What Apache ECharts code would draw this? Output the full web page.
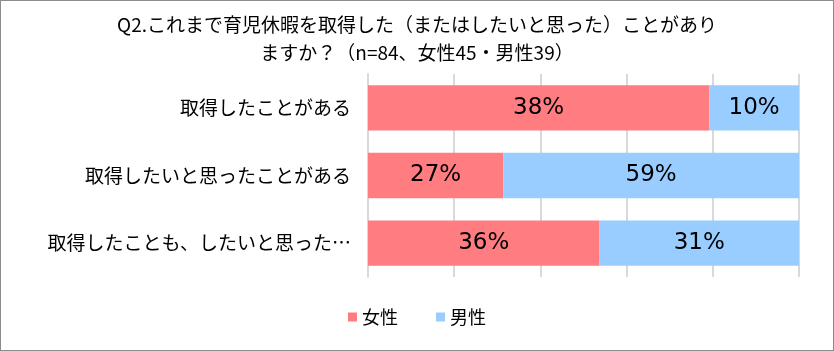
<!DOCTYPE html>
<html lang="ja">
<head>
<meta charset="UTF-8">
<title>育児休暇</title>
<script src="https://cdn.jsdelivr.net/npm/echarts@6/dist/echarts.min.js"></script>
<style>
  html, body { margin: 0; padding: 0; background: #fff; }
  #main { width: 832px; height: 349px; border: 1px solid #8c8c8c; }
</style>
</head>
<body>
<div id="main"></div>
<script>
var categories = ['取得したことがある', '取得したいと思ったことがある', '取得したことも、したいと思った…'];
var female = [38, 27, 36];
var male = [10, 59, 31];
var seriesNames = ['女性', '男性'];

// 100%積み上げ: 各行を合計で割る
function share(a, b) {
  return a.map(function (v, i) { return v / (a[i] + b[i]) * 100; });
}
var femaleShare = share(female, male);
var maleShare = share(male, female);

var font = '"Noto Sans CJK JP", sans-serif';
var chart = echarts.init(document.getElementById('main'));

function labelOf(raw) {
  return {
    show: true,
    position: 'inside',
    color: '#000',
    fontSize: 23,
    fontFamily: '"DejaVu Sans", sans-serif',
    formatter: function (p) { return raw[p.dataIndex] + '%'; }
  };
}

var option = {
  animation: false,
  title: {
    text: 'Q2.これまで育児休暇を取得した（またはしたいと思った）ことがあり\nますか？（n=84、女性45・男性39）',
    left: 'center',
    top: 5,
    textStyle: { fontSize: 19, fontWeight: 'normal', color: '#000', fontFamily: font, lineHeight: 28 }
  },
  legend: {
    bottom: 19,
    left: 'center',
    icon: 'rect',
    itemWidth: 9,
    itemHeight: 9,
    itemGap: 38,
    textStyle: { fontSize: 18, color: '#000', fontFamily: font },
    data: seriesNames
  },
  grid: { left: 367, right: 34, top: 73, bottom: 73 },
  xAxis: {
    type: 'value',
    min: 0,
    max: 100,
    interval: 20,
    axisLabel: { show: false },
    axisLine: { show: false },
    axisTick: { show: false },
    splitLine: { show: true, lineStyle: { color: '#d9d9d9', width: 2 } }
  },
  yAxis: {
    type: 'category',
    inverse: true,
    data: categories,
    axisTick: { show: false },
    axisLine: { show: true, lineStyle: { color: '#d9d9d9', width: 2 } },
    axisLabel: { fontSize: 19, color: '#000', fontFamily: font, margin: 17 }
  },
  series: [
    {
      name: seriesNames[0],
      type: 'bar',
      stack: 'total',
      barWidth: '67%',
      data: femaleShare,
      itemStyle: { color: '#ff7c80' },
      label: labelOf(female)
    },
    {
      name: seriesNames[1],
      type: 'bar',
      stack: 'total',
      barWidth: '67%',
      data: maleShare,
      itemStyle: { color: '#99ccff' },
      label: labelOf(male)
    }
  ]
};

chart.setOption(option);
</script>
</body>
</html>
